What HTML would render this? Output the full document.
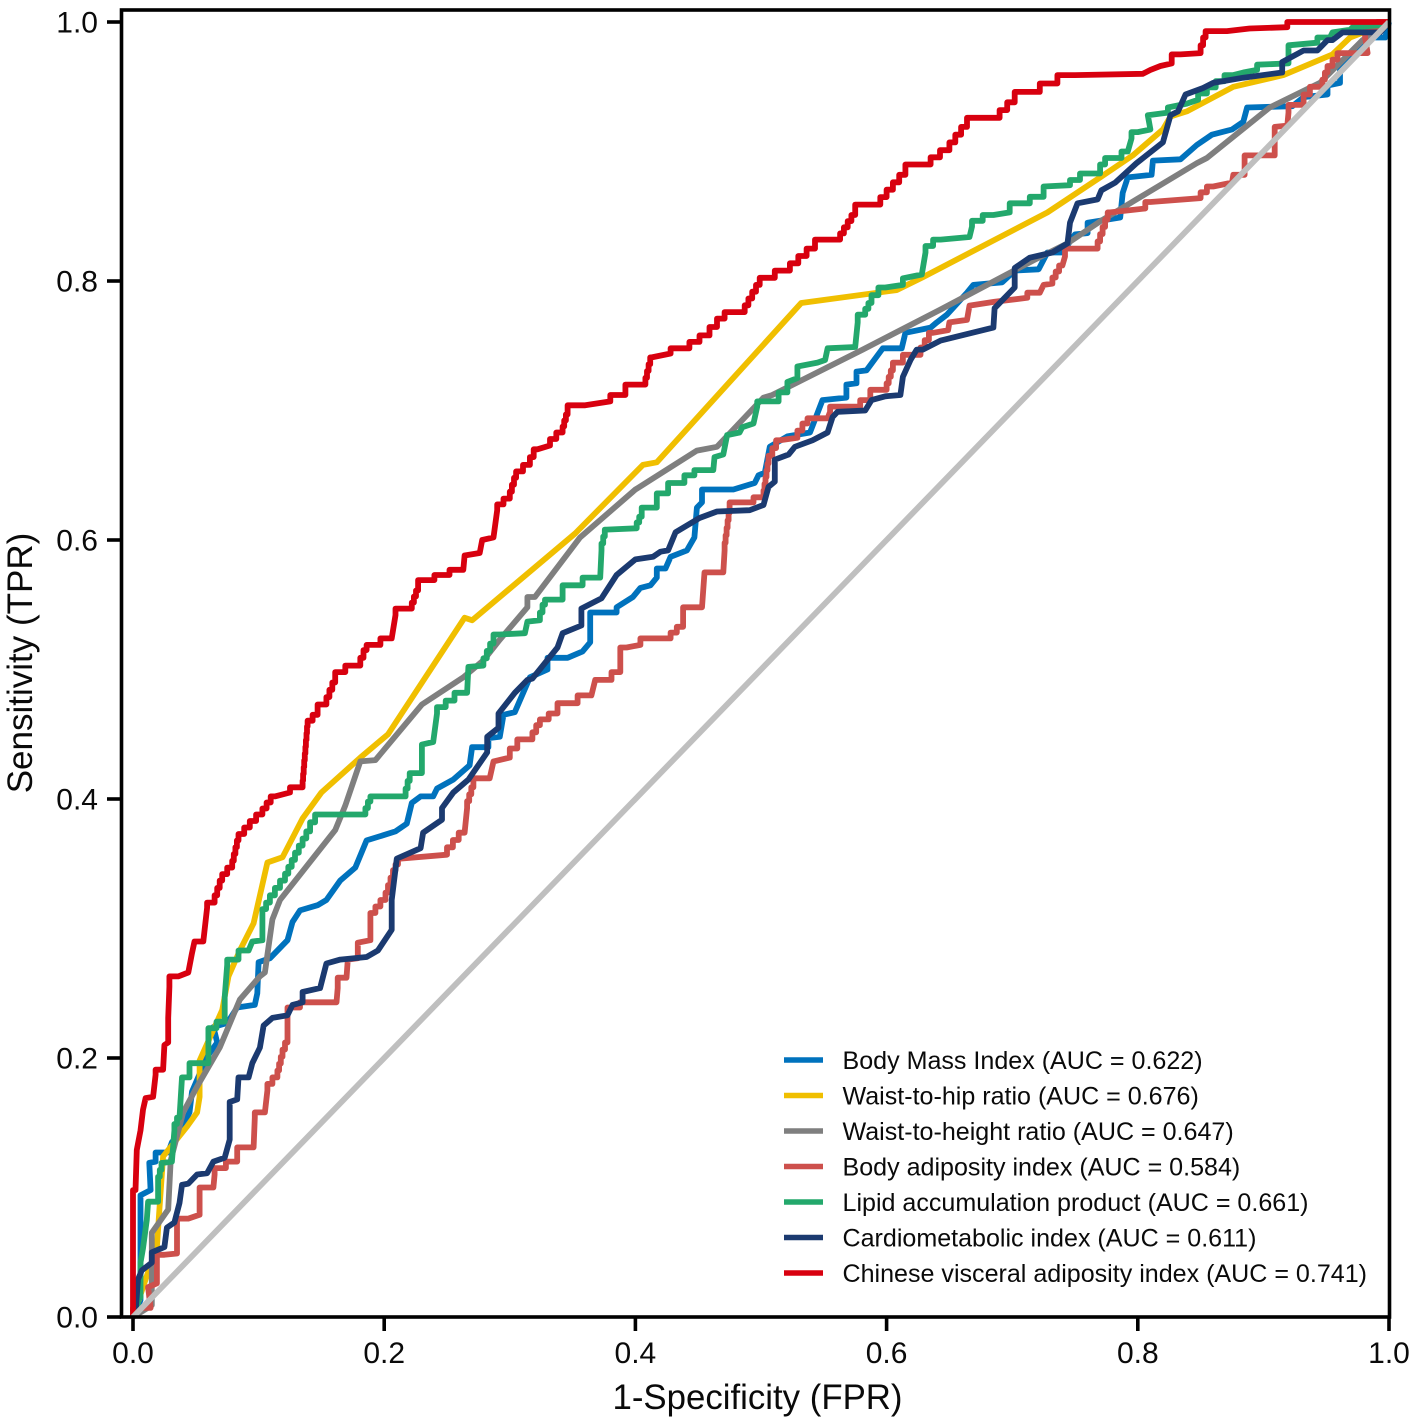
<!DOCTYPE html>
<html lang="en">
<head>
<meta charset="utf-8">
<title>ROC curves</title>
<style>
html,body{margin:0;padding:0;background:#fff;width:1418px;height:1425px;overflow:hidden}
svg{display:block}
text{font-family:"Liberation Sans",Arial,sans-serif;fill:#0a0a0a}
</style>
</head>
<body>
<svg id="chart" xmlns="http://www.w3.org/2000/svg" width="1418" height="1425" viewBox="0 0 1418 1425">
  <g id="curves" fill="none" stroke-linejoin="round" stroke-linecap="butt"></g>
  <rect x="121.5" y="10" width="1268" height="1307" fill="none" stroke="#000" stroke-width="3.6"/>
  <g id="ticks"></g>
  <text x="757.5" y="1409" text-anchor="middle" font-size="34.8">1-Specificity (FPR)</text>
  <text transform="translate(32,663) rotate(-90)" text-anchor="middle" font-size="35">Sensitivity (TPR)</text>
  <g id="legend"></g>
</svg>
<script>
const xTicks = [0, 0.2, 0.4, 0.6, 0.8, 1];
const yTicks = [0, 0.2, 0.4, 0.6, 0.8, 1];
const tickLabels = ['0.0', '0.2', '0.4', '0.6', '0.8', '1.0'];
const seriesNames = ['Body Mass Index', 'Waist-to-hip ratio', 'Waist-to-height ratio', 'Body adiposity index', 'Lipid accumulation product', 'Cardiometabolic index', 'Chinese visceral adiposity index'];
const aucValues = ['0.622', '0.676', '0.647', '0.584', '0.661', '0.611', '0.741'];
const seriesColors = ['#0072bd', '#f0bf00', '#7f7f7f', '#cd504c', '#23a86c', '#1b3a70', '#d8000f'];
const seriesStepped = [false, false, false, true, true, false, true];
const chanceLine = [[0, 0], [1, 1]];

const bmiRoc = [[0,0],[.006,.013],[.006,.094],[.014,.098],[.013,.119],[.018,.120],[.018,.127],[.028,.127],[.031,.135],[.037,.142],[.045,.158],[.047,.174],[.059,.201],[.067,.212],[.064,.224],[.075,.227],[.083,.239],[.097,.241],[.099,.250],[.100,.274],[.109,.277],[.123,.291],[.127,.305],[.133,.314],[.147,.318],[.154,.322],[.165,.337],[.177,.347],[.186,.368],[.209,.375],[.218,.381],[.222,.397],[.229,.402],[.239,.402],[.242,.408],[.255,.415],[.268,.426],[.270,.440],[.283,.440],[.283,.447],[.292,.448],[.295,.465],[.304,.467],[.316,.494],[.330,.500],[.330,.509],[.346,.509],[.358,.514],[.364,.521],[.364,.544],[.385,.544],[.385,.548],[.398,.556],[.404,.563],[.412,.565],[.417,.571],[.417,.578],[.424,.578],[.428,.587],[.441,.592],[.447,.602],[.449,.625],[.453,.629],[.453,.639],[.478,.639],[.495,.644],[.498,.650],[.503,.652],[.507,.672],[.521,.680],[.539,.683],[.549,.708],[.568,.710],[.568,.720],[.576,.721],[.576,.730],[.584,.731],[.597,.748],[.612,.748],[.615,.760],[.635,.764],[.640,.768],[.648,.774],[.664,.791],[.669,.797],[.692,.799],[.702,.808],[.721,.809],[.728,.822],[.740,.822],[.750,.836],[.760,.837],[.760,.845],[.786,.849],[.788,.868],[.792,.880],[.811,.882],[.812,.893],[.834,.894],[.847,.905],[.859,.913],[.875,.917],[.884,.923],[.887,.934],[.923,.935],[.932,.942],[.951,.944],[.951,.951],[.961,.953],[.961,.965],[.971,.975],[.983,.988],[.997,.988],[1,1]];

const waistHipRoc = [[0,0],[.010,.029],[.019,.054],[.021,.083],[.024,.124],[.043,.147],[.051,.158],[.053,.170],[.053,.198],[.071,.237],[.076,.263],[.085,.283],[.096,.304],[.107,.351],[.119,.355],[.135,.385],[.150,.405],[.181,.432],[.203,.450],[.264,.540],[.270,.538],[.352,.605],[.406,.658],[.417,.660],[.532,.783],[.608,.793],[.629,.803],[.728,.853],[.770,.880],[.796,.897],[.820,.917],[.826,.927],[.839,.931],[.876,.950],[.916,.959],[.955,.975],[.969,.988],[.998,.999],[1,1]];

const waistHeightRoc = [[0,0],[.015,.009],[.015,.065],[.028,.083],[.030,.121],[.040,.158],[.051,.178],[.069,.208],[.085,.245],[.101,.263],[.105,.266],[.111,.307],[.117,.322],[.161,.376],[.169,.395],[.181,.429],[.193,.430],[.230,.473],[.263,.494],[.279,.507],[.292,.523],[.314,.548],[.314,.556],[.320,.556],[.356,.602],[.400,.639],[.449,.669],[.465,.672],[.502,.710],[.509,.712],[.581,.747],[.643,.778],[.717,.816],[.744,.829],[.770,.846],[.799,.863],[.847,.891],[.855,.895],[.905,.934],[.945,.953],[.979,.986],[1,1]];

const adiposityRoc = [[0,0],[.014,.007],[.012,.023],[.019,.026],[.019,.040],[.025,.048],[.035,.049],[.035,.069],[.044,.076],[.053,.079],[.053,.093],[.064,.100],[.065,.110],[.083,.120],[.083,.124],[.096,.131],[.097,.154],[.105,.158],[.107,.175],[.115,.185],[.119,.201],[.123,.212],[.123,.232],[.133,.239],[.162,.243],[.163,.254],[.170,.262],[.171,.276],[.179,.277],[.179,.289],[.189,.291],[.189,.307],[.197,.317],[.201,.322],[.209,.345],[.213,.354],[.250,.357],[.264,.374],[.266,.393],[.271,.409],[.284,.416],[.287,.429],[.300,.432],[.306,.439],[.318,.446],[.324,.457],[.338,.466],[.338,.474],[.354,.474],[.365,.480],[.368,.492],[.381,.492],[.388,.498],[.388,.509],[.393,.517],[.404,.519],[.428,.524],[.438,.533],[.438,.544],[.453,.548],[.455,.575],[.470,.575],[.471,.592],[.475,.621],[.494,.629],[.502,.633],[.506,.659],[.515,.677],[.529,.679],[.537,.690],[.553,.694],[.555,.699],[.579,.703],[.587,.708],[.600,.716],[.605,.731],[.613,.737],[.627,.743],[.637,.760],[.649,.762],[.650,.768],[.664,.770],[.666,.781],[.686,.784],[.712,.787],[.722,.791],[.725,.797],[.732,.798],[.740,.812],[.742,.819],[.768,.825],[.778,.853],[.806,.856],[.810,.861],[.850,.864],[.860,.873],[.875,.876],[.876,.882],[.885,.882],[.885,.893],[.909,.897],[.909,.919],[.919,.920],[.920,.930],[.932,.936],[.937,.944],[.947,.950],[.951,.961],[.959,.971],[.983,.976],[.981,.988],[1,1]];

const lipidRoc = [[0,0],[.006,.015],[.006,.042],[.008,.053],[.011,.075],[.012,.089],[.020,.089],[.020,.103],[.024,.119],[.031,.120],[.033,.144],[.037,.154],[.039,.185],[.045,.185],[.045,.192],[.060,.196],[.060,.218],[.073,.228],[.073,.247],[.075,.272],[.084,.276],[.092,.283],[.095,.290],[.103,.291],[.103,.310],[.109,.320],[.121,.337],[.129,.353],[.141,.375],[.145,.382],[.185,.388],[.189,.398],[.217,.402],[.222,.420],[.230,.420],[.230,.442],[.239,.444],[.242,.466],[.256,.476],[.266,.482],[.267,.502],[.279,.503],[.287,.520],[.292,.527],[.312,.528],[.314,.537],[.324,.538],[.328,.550],[.342,.554],[.342,.565],[.358,.565],[.372,.571],[.373,.592],[.377,.608],[.401,.609],[.405,.618],[.417,.625],[.417,.631],[.426,.636],[.426,.644],[.439,.644],[.447,.650],[.462,.654],[.463,.664],[.470,.666],[.473,.681],[.483,.683],[.485,.687],[.494,.690],[.497,.703],[.514,.707],[.514,.714],[.521,.714],[.521,.722],[.529,.725],[.529,.734],[.545,.737],[.551,.739],[.553,.748],[.575,.749],[.577,.768],[.583,.774],[.588,.783],[.599,.795],[.613,.797],[.613,.802],[.628,.805],[.631,.822],[.643,.832],[.666,.834],[.668,.842],[.685,.851],[.698,.853],[.698,.860],[.714,.860],[.725,.865],[.725,.873],[.746,.874],[.754,.878],[.770,.883],[.774,.890],[.787,.895],[.792,.900],[.795,.910],[.800,.915],[.810,.917],[.808,.928],[.824,.930],[.824,.934],[.839,.937],[.848,.940],[.876,.959],[.884,.961],[.895,.963],[.895,.967],[.920,.968],[.920,.982],[.943,.984],[.953,.988],[.955,.992],[.969,.994],[.971,.996],[1,.998]];

const cardiometabolicRoc = [[0,0],[.002,.003],[.004,.029],[.007,.036],[.015,.042],[.015,.050],[.025,.054],[.027,.069],[.033,.073],[.037,.088],[.039,.102],[.044,.103],[.051,.110],[.059,.111],[.064,.120],[.073,.123],[.077,.137],[.077,.166],[.083,.168],[.084,.185],[.092,.185],[.095,.196],[.101,.208],[.104,.225],[.111,.231],[.123,.233],[.127,.241],[.135,.243],[.135,.251],[.149,.254],[.154,.273],[.165,.276],[.186,.278],[.195,.283],[.206,.299],[.206,.322],[.210,.354],[.229,.362],[.231,.374],[.246,.384],[.246,.393],[.255,.405],[.267,.415],[.282,.436],[.282,.448],[.291,.455],[.291,.466],[.304,.482],[.314,.492],[.318,.493],[.338,.517],[.342,.528],[.357,.534],[.357,.547],[.373,.555],[.385,.573],[.400,.585],[.414,.587],[.420,.591],[.426,.592],[.432,.606],[.451,.617],[.465,.622],[.491,.623],[.502,.627],[.506,.641],[.511,.645],[.511,.662],[.522,.666],[.527,.672],[.541,.677],[.553,.683],[.557,.695],[.561,.699],[.583,.700],[.588,.708],[.599,.711],[.611,.712],[.613,.726],[.619,.739],[.624,.747],[.629,.747],[.643,.754],[.685,.764],[.686,.779],[.702,.795],[.702,.810],[.714,.818],[.732,.822],[.744,.829],[.746,.845],[.752,.860],[.768,.863],[.771,.870],[.782,.876],[.799,.891],[.820,.907],[.826,.928],[.832,.931],[.838,.944],[.852,.949],[.860,.953],[.884,.957],[.915,.961],[.915,.969],[.932,.978],[.943,.978],[.951,.986],[.955,.986],[.963,.992],[.993,.992],[1,1]];

const visceralRoc = [[0,0],[0,.098],[.002,.098],[.003,.129],[.006,.144],[.008,.160],[.010,.169],[.016,.170],[.018,.187],[.024,.191],[.025,.210],[.028,.212],[.028,.231],[.029,.255],[.036,.263],[.044,.266],[.047,.281],[.049,.290],[.056,.290],[.059,.316],[.065,.320],[.071,.337],[.079,.347],[.084,.368],[.093,.378],[.103,.388],[.113,.402],[.125,.405],[.135,.409],[.139,.456],[.147,.465],[.154,.473],[.161,.490],[.169,.498],[.181,.503],[.186,.515],[.197,.519],[.206,.524],[.209,.542],[.222,.547],[.227,.561],[.240,.569],[.252,.573],[.263,.577],[.264,.588],[.276,.590],[.278,.600],[.287,.602],[.290,.623],[.300,.632],[.305,.648],[.316,.658],[.322,.670],[.332,.673],[.342,.683],[.346,.697],[.360,.704],[.380,.707],[.392,.712],[.408,.720],[.413,.741],[.428,.744],[.443,.748],[.459,.758],[.471,.771],[.487,.776],[.499,.797],[.523,.808],[.543,.825],[.563,.832],[.575,.851],[.595,.859],[.615,.882],[.635,.890],[.650,.901],[.664,.919],[.690,.926],[.702,.938],[.722,.946],[.750,.959],[.804,.960],[.810,.963],[.818,.966],[.827,.968],[.834,.975],[.850,.976],[.854,.988],[.871,.993],[.889,.995],[.919,.996],[.932,1],[1,1]];

const allCurves = [bmiRoc, waistHipRoc, waistHeightRoc, adiposityRoc, lipidRoc, cardiometabolicRoc, visceralRoc];

const SVG_NS = 'http://www.w3.org/2000/svg';
function xScale(v) { return 133 + v * 1256; }
function yScale(v) { return 1317 - v * 1295; }
function pathFrom(points, stepped) {
  let d = '';
  let px = 0;
  let py = 0;
  points.forEach(function (p, i) {
    const x = xScale(p[0]);
    const y = yScale(p[1]);
    if (i === 0) {
      d += 'M' + x.toFixed(1) + ' ' + y.toFixed(1);
    } else {
      const dx = x - px;
      const dy = y - py;
      if (stepped && Math.abs(dx) >= 4 && Math.abs(dy) >= 4) {
        const n = Math.max(1, Math.round(Math.abs(dy) / 7));
        for (let k = 1; k <= n; k++) {
          d += ' V' + (py + dy * k / n).toFixed(1) + ' H' + (px + dx * k / n).toFixed(1);
        }
      } else {
        d += ' L' + x.toFixed(1) + ' ' + y.toFixed(1);
      }
    }
    px = x;
    py = y;
  });
  return d;
}
function slug(s) { return s.toLowerCase().replace(/[^a-z0-9]+/g, '-'); }

const curvesGroup = document.getElementById('curves');
allCurves.forEach(function (points, i) {
  const path = document.createElementNS(SVG_NS, 'path');
  path.setAttribute('d', pathFrom(points, seriesStepped[i]));
  path.setAttribute('stroke', seriesColors[i]);
  path.setAttribute('stroke-width', '5.8');
  
  
  curvesGroup.appendChild(path);
});
const chance = document.createElementNS(SVG_NS, 'path');
chance.setAttribute('d', pathFrom(chanceLine, false));
chance.setAttribute('stroke', '#bfbfbf');
chance.setAttribute('stroke-width', '5.8');


curvesGroup.appendChild(chance);

const ticksGroup = document.getElementById('ticks');
xTicks.forEach(function (v, i) {
  const line = document.createElementNS(SVG_NS, 'line');
  line.setAttribute('x1', xScale(v));
  line.setAttribute('x2', xScale(v));
  line.setAttribute('y1', 1317);
  line.setAttribute('y2', 1331);
  line.setAttribute('stroke', '#000');
  line.setAttribute('stroke-width', '3.6');
  
  
  ticksGroup.appendChild(line);
  const label = document.createElementNS(SVG_NS, 'text');
  label.setAttribute('x', xScale(v));
  label.setAttribute('y', 1363);
  label.setAttribute('text-anchor', 'middle');
  label.setAttribute('font-size', '30');
  label.textContent = tickLabels[i];
  
  
  ticksGroup.appendChild(label);
});
yTicks.forEach(function (v, i) {
  const line = document.createElementNS(SVG_NS, 'line');
  line.setAttribute('x1', 107);
  line.setAttribute('x2', 121);
  line.setAttribute('y1', yScale(v));
  line.setAttribute('y2', yScale(v));
  line.setAttribute('stroke', '#000');
  line.setAttribute('stroke-width', '3.6');
  
  
  ticksGroup.appendChild(line);
  const label = document.createElementNS(SVG_NS, 'text');
  label.setAttribute('x', 98);
  label.setAttribute('y', yScale(v) + 10.5);
  label.setAttribute('text-anchor', 'end');
  label.setAttribute('font-size', '30');
  label.textContent = tickLabels[i];
  
  
  ticksGroup.appendChild(label);
});

const legendGroup = document.getElementById('legend');
seriesNames.forEach(function (name, i) {
  const rowY = 1060 + i * 35.5;
  const key = document.createElementNS(SVG_NS, 'line');
  key.setAttribute('x1', 784);
  key.setAttribute('x2', 823);
  key.setAttribute('y1', rowY);
  key.setAttribute('y2', rowY);
  key.setAttribute('stroke', seriesColors[i]);
  key.setAttribute('stroke-width', '5.4');
  
  
  legendGroup.appendChild(key);
  const label = document.createElementNS(SVG_NS, 'text');
  label.setAttribute('x', 842.5);
  label.setAttribute('y', rowY + 9);
  label.setAttribute('font-size', '25.07');
  label.textContent = name + ' (AUC = ' + aucValues[i] + ')';
  
  
  legendGroup.appendChild(label);
});
</script>
</body>
</html>
